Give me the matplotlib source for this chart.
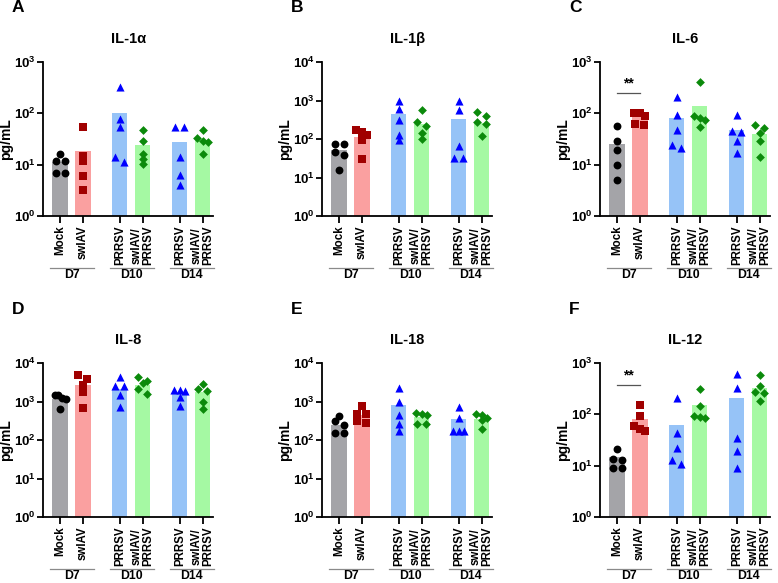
import numpy as np
import matplotlib
matplotlib.use("Agg")
import matplotlib.pyplot as plt
from matplotlib.transforms import blended_transform_factory

plt.rcParams['font.family'] = ['Liberation Sans', 'DejaVu Sans']
plt.rcParams['font.weight'] = 'bold'
plt.rcParams['mathtext.fontset'] = 'custom'
plt.rcParams['mathtext.rm'] = 'Liberation Sans:bold'
plt.rcParams['mathtext.bf'] = 'Liberation Sans:bold'
plt.rcParams['mathtext.it'] = 'Liberation Sans:bold'

# ---------------- data ----------------
groups = ["Mock", "swIAV", "PRRSV", "swIAV/\nPRRSV", "PRRSV", "swIAV/\nPRRSV"]
days = ["D7", "D10", "D14"]
panel_letters = ["A", "B", "C", "D", "E", "F"]
cytokines = ["IL-1α", "IL-1β", "IL-6", "IL-8", "IL-18", "IL-12"]
ymax_exp = [3, 4, 3, 4, 4, 3]

il1a_points = [[16.4, 11.6, 11.6, 6.8, 6.8], [54, 15, 11.6, 6.1, 3.2], [331, 77, 53, 13.9, 11.3],
               [47, 28.5, 16.4, 13.1, 10.4], [55, 55, 14.3, 6.3, 4.0], [47, 33, 28.5, 28, 16]]
il1a_bars = [10.3, 17.7, 100, 23.4, 27, 29]

il1b_points = [[75, 75, 47, 38, 16], [169, 149, 127, 92, 30], [980, 605, 317, 127, 94],
               [550, 283, 214, 146, 100], [960, 570, 67, 33, 33], [514, 406, 277, 240, 122]]
il1b_bars = [50, 115, 440, 250, 333, 260]

il6_points = [[56, 28.3, 19, 9.7, 5.1], [101, 100, 89, 63, 60], [210, 93, 47, 24.5, 21],
              [405, 90, 80, 73, 53], [91, 46, 43, 29, 17], [58.5, 51, 42, 28.7, 14]]
il6_bars = [24, 82, 80, 138, 45.6, 39]

il8_points = [[1500, 1450, 1250, 1150, 650], [5000, 3820, 2700, 1740, 680], [4350, 2470, 2470, 1480, 710],
              [4350, 3400, 2960, 2100, 1570], [2000, 1990, 1870, 1290, 780], [2900, 2100, 1870, 1000, 630]]
il8_bars = [1150, 2750, 2100, 2750, 1730, 1730]

il18_points = [[415, 303, 248, 150, 150], [770, 460, 460, 303, 280], [2250, 1000, 435, 257, 170],
               [510, 478, 435, 253, 253], [740, 382, 172, 172, 172], [460, 455, 382, 340, 195]]
il18_bars = [247, 433, 830, 390, 340, 355]

il12_points = [[21.3, 13.5, 12.7, 9.0, 9.0], [149, 91, 58, 51, 48], [210, 43, 22, 12.9, 11],
               [316, 145, 93, 88, 85], [620, 322, 34.4, 19.5, 8.9], [585, 353, 270, 262, 183]]
il12_bars = [13.9, 80, 60, 148, 208, 330]

all_points = [il1a_points, il1b_points, il6_points, il8_points, il18_points, il12_points]
all_bars = [il1a_bars, il1b_bars, il6_bars, il8_bars, il18_bars, il12_bars]

# significance: (panel index, y of bracket line, label)
significance = [(2, 245, "**"), (5, 372, "**")]

# ---------------- style ----------------
xpos = [0, 1, 2.62, 3.62, 5.25, 6.25]
day_members = [(0, 1), (2, 3), (4, 5)]
bar_colors = ["#a4a4a8", "#faa0a0", "#96c3f7", "#a5f9a3"]
mark_colors = ["#000000", "#a00000", "#0000ff", "#0b8a0b"]
markers = ["o", "s", "^", "D"]
msize = [32, 30, 34, 20]
grp_style = [0, 1, 2, 3, 2, 3]

W, H = 778, 583
fig = plt.figure(figsize=(W / 100, H / 100), dpi=100)

lefts = [43, 322, 600]
rows = [(62, 216), (363, 517)]
xl = (-0.75, 6.72)
unit_px = 22.8
ax_w = (xl[1] - xl[0]) * unit_px


def swarm_offsets(vals, px_per_dec):
    order = np.argsort(vals)[::-1]
    ys = np.log10(np.asarray(vals, float)) * px_per_dec
    offs = np.zeros(len(vals))
    rows_ = []
    cur = []
    for i in order:
        if cur and abs(ys[cur[0]] - ys[i]) > 5.0:
            rows_.append(cur)
            cur = []
        cur.append(i)
    if cur:
        rows_.append(cur)
    for r in rows_:
        k = len(r)
        if k == 1:
            continue
        step = min(9.0, 11.0 / (k - 1))
        for j, i in enumerate(r):
            offs[i] = (j - (k - 1) / 2) * step / unit_px
    return offs


for p in range(6):
    r, c = divmod(p, 3)
    top, bot = rows[r]
    left = lefts[c]
    ax = fig.add_axes([left / W, 1 - bot / H, ax_w / W, (bot - top) / H])
    ax.set_yscale('log')
    ax.set_ylim(1, 10 ** ymax_exp[p])
    ax.set_xlim(*xl)
    px_per_dec = (bot - top) / ymax_exp[p]

    for g in range(6):
        st = grp_style[g]
        ax.bar(xpos[g], all_bars[p][g], width=0.67, bottom=1, color=bar_colors[st], zorder=1)
        vals = all_points[p][g]
        offs = swarm_offsets(vals, px_per_dec)
        ax.scatter(np.array([xpos[g]] * len(vals)) + offs, vals, marker=markers[st],
                   s=msize[st], color=mark_colors[st], linewidths=0, zorder=3, clip_on=False)

    for sp in ['top', 'right']:
        ax.spines[sp].set_visible(False)
    for sp in ['left', 'bottom']:
        ax.spines[sp].set_linewidth(1.3)
    ax.set_yticks([10 ** e for e in range(ymax_exp[p] + 1)])
    ax.set_yticklabels([r"$\mathbf{10^{%d}}$" % e for e in range(ymax_exp[p] + 1)], fontsize=9.5)
    ax.yaxis.set_minor_locator(matplotlib.ticker.NullLocator())
    ax.tick_params(axis='y', length=4, width=1.3, pad=1)
    ax.set_xticks(xpos)
    ax.set_xticklabels(groups, rotation=90, fontsize=8.3, fontweight='bold', linespacing=0.95)
    ax.tick_params(axis='x', length=5, width=1.3, pad=2)
    ax.set_ylabel("pg/mL", fontsize=10, fontweight='bold')
    ax.yaxis.set_label_coords(-30.0 / ax_w, 0.5)
    ax.set_title(cytokines[p], fontsize=10.5, fontweight='bold', pad=14)

    trans = blended_transform_factory(ax.transData, ax.transAxes)
    for d, (a, b) in enumerate(day_members):
        x0 = xpos[a] - 0.45
        x1 = xpos[b] + 0.5
        ax.plot([x0, x1], [-0.335, -0.335], color="#8a8a8a", lw=0.9, transform=trans, clip_on=False)
        ax.text((xpos[a] + xpos[b]) / 2, -0.385, days[d], transform=trans, ha='center', va='center',
                fontsize=8.8, fontweight='bold')

    fig.text((left - 31) / W, 1 - (top - 54) / H, panel_letters[p], fontsize=12.5,
             fontweight='bold', ha='left', va='center')

    for (pi, yv, lab) in significance:
        if pi == p:
            ax.plot([xpos[0], xpos[1]], [yv, yv], color="#555555", lw=0.9, zorder=4)
            ax.text((xpos[0] + xpos[1]) / 2, yv * 1.12, lab, ha='center', va='bottom',
                    fontsize=10, fontweight='bold')

fig.savefig("out.png", dpi=100, facecolor='white')
